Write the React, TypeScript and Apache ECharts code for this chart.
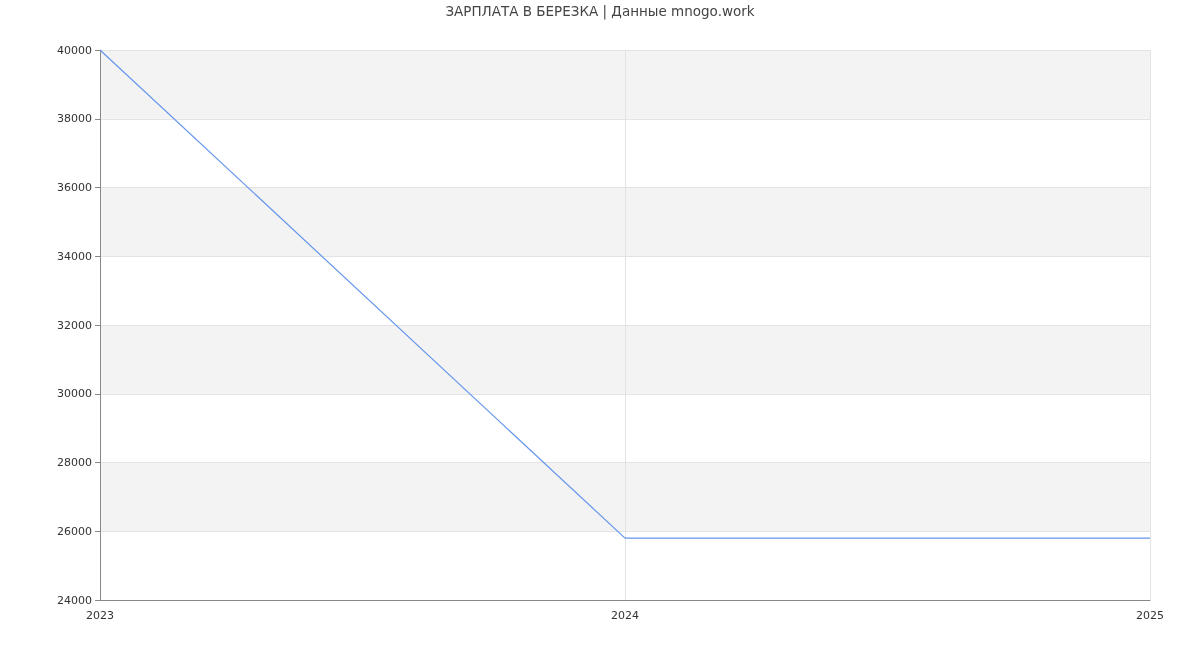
import React, { useEffect, useRef } from "react";
import * as echarts from "echarts";

const years = ["2023", "2024", "2025"];
const salary = [40000, 25800, 25800];
const titleText = "ЗАРПЛАТА В БЕРЕЗКА | Данные mnogo.work";

export default function App() {
  const ref = useRef<HTMLDivElement>(null);
  useEffect(() => {
    if (!ref.current) return;
    const chart = echarts.init(ref.current, undefined, { renderer: "svg" });
    chart.setOption({
      animation: false,
      textStyle: { fontFamily: "DejaVu Sans" },
      title: {
        text: titleText,
        left: "center",
        top: 4,
        padding: 0,
        textStyle: { fontSize: 13.5, fontWeight: "normal", color: "#444", fontFamily: "DejaVu Sans" },
      },
      grid: { left: 100, right: 50, top: 50, bottom: 50, containLabel: false },
      xAxis: {
        type: "category",
        data: years,
        boundaryGap: false,
        axisLine: { lineStyle: { color: "#888" } },
        axisTick: { show: false },
        axisLabel: { color: "#333", fontSize: 11, margin: 10, fontFamily: "DejaVu Sans" },
        splitLine: { show: true, lineStyle: { color: "#e3e3e3" } },
      },
      yAxis: {
        type: "value",
        min: 24000,
        max: 40000,
        interval: 2000,
        axisLine: { show: true, lineStyle: { color: "#888" } },
        axisTick: { show: true, length: 5, lineStyle: { color: "#888" } },
        axisLabel: {
          color: "#333",
          fontSize: 11,
          margin: 8,
          fontFamily: "DejaVu Sans",
          formatter: (v: number) => String(v),
        },
        splitLine: { show: true, lineStyle: { color: "#e3e3e3" } },
        splitArea: { show: true, areaStyle: { color: ["#ffffff", "#f3f3f3"] } },
      },
      series: [
        {
          type: "line",
          data: salary,
          symbol: "none",
          lineStyle: { color: "#6495ed", width: 1.2 },
        },
      ],
    });
    return () => chart.dispose();
  }, []);
  return (
    <div
      ref={ref}
      style={{ position: "fixed", left: 0, top: 0, width: 1200, height: 650 }}
    />
  );
}
